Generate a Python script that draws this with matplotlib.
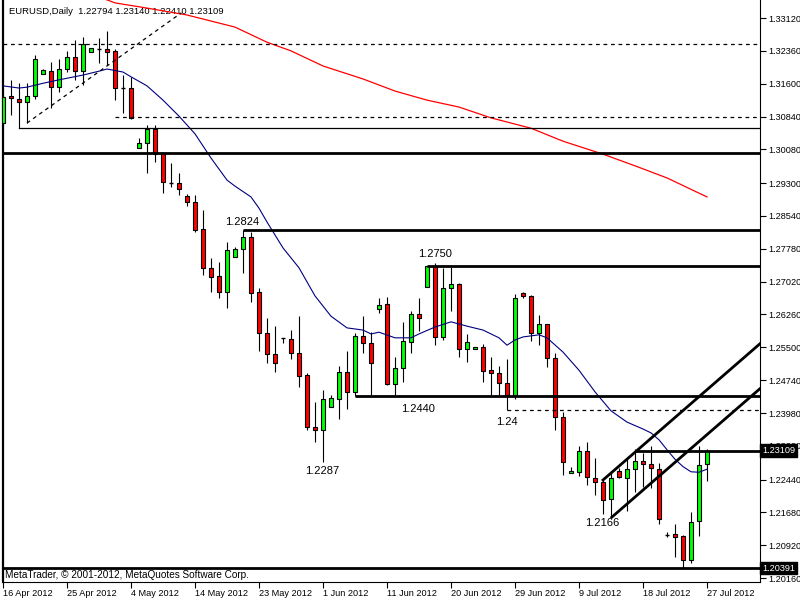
import numpy as np
import matplotlib
matplotlib.use("Agg")
import matplotlib.pyplot as plt
import matplotlib.transforms as mtransforms

plt.rcParams['font.family'] = ['Liberation Sans', 'DejaVu Sans']

# daily EURUSD bars, 16 Apr 2012 .. 27 Jul 2012 (incl. sunday bars)
opens = [1.3069, 1.3132, 1.3125, 1.3118, 1.3132, 1.3182, 1.3189, 1.3152, 1.3194, 1.3222,
         1.3189, 1.3233, 1.3240, 1.3240, 1.3236, 1.3150, 1.3150, 1.3011, 1.3023, 1.3055,
         1.3000, 1.2930, 1.2930, 1.2900, 1.2886, 1.2824, 1.2734, 1.2715, 1.2678, 1.2759,
         1.2777, 1.2805, 1.2678, 1.2583, 1.2535, 1.2572, 1.2569, 1.2537, 1.2486, 1.2366,
         1.2359, 1.2412, 1.2430, 1.2493, 1.2447, 1.2576, 1.2560, 1.2639, 1.2650, 1.2465,
         1.2502, 1.2562, 1.2627, 1.2690, 1.2738, 1.2574, 1.2687, 1.2697, 1.2546, 1.2546,
         1.2551, 1.2497, 1.2491, 1.2467, 1.2440, 1.2676, 1.2669, 1.2583, 1.2604, 1.2525,
         1.2389, 1.2259, 1.2261, 1.2310, 1.2248, 1.2238, 1.2199, 1.2264, 1.2248, 1.2268,
         1.2287, 1.2280, 1.2268, 1.2116, 1.2118, 1.2113, 1.2058, 1.2148, 1.22794]
highs = [1.3134, 1.3169, 1.3162, 1.3162, 1.3226, 1.3194, 1.3210, 1.3217, 1.3236, 1.3261,
         1.3268, 1.3243, 1.3266, 1.3282, 1.3240, 1.3180, 1.3176, 1.3034, 1.3064, 1.3064,
         1.3002, 1.2977, 1.2953, 1.2905, 1.2902, 1.2868, 1.2757, 1.2747, 1.2794, 1.2782,
         1.2821, 1.2817, 1.2687, 1.2618, 1.2599, 1.2572, 1.2590, 1.2622, 1.2491, 1.2423,
         1.2451, 1.2440, 1.2507, 1.2541, 1.2583, 1.2622, 1.2585, 1.2664, 1.2666, 1.2528,
         1.2609, 1.2634, 1.2664, 1.2738, 1.2745, 1.2734, 1.2736, 1.2699, 1.2581, 1.2551,
         1.2558, 1.2528, 1.2507, 1.2523, 1.2674, 1.2678, 1.2671, 1.2625, 1.2604, 1.2537,
         1.2400, 1.2273, 1.2322, 1.2331, 1.2294, 1.2243, 1.2259, 1.2271, 1.2292, 1.2315,
         1.2305, 1.2322, 1.2282, 1.2123, 1.2141, 1.2116, 1.2169, 1.2322, 1.23140]
lows = [1.3064, 1.3088, 1.3057, 1.3069, 1.3125, 1.3182, 1.3104, 1.3141, 1.3187, 1.3169,
        1.3157, 1.3233, 1.3208, 1.3203, 1.3122, 1.3092, 1.3078, 1.3011, 1.2953, 1.2979,
        1.2907, 1.2921, 1.2902, 1.2877, 1.2817, 1.2717, 1.2678, 1.2664, 1.2641, 1.2759,
        1.2722, 1.2655, 1.2541, 1.2514, 1.2493, 1.2560, 1.2523, 1.2458, 1.2359, 1.2331,
        1.2285, 1.2412, 1.2384, 1.2407, 1.2437, 1.2537, 1.2437, 1.2629, 1.2463, 1.2437,
        1.2470, 1.2537, 1.2588, 1.2690, 1.2555, 1.2567, 1.2634, 1.2528, 1.2516, 1.2546,
        1.2470, 1.2437, 1.2437, 1.2405, 1.2430, 1.2664, 1.2565, 1.2555, 1.2504, 1.2359,
        1.2254, 1.2259, 1.2252, 1.2231, 1.2208, 1.2164, 1.2157, 1.2248, 1.2171, 1.2215,
        1.2227, 1.2224, 1.2141, 1.2111, 1.2065, 1.2039, 1.2051, 1.2113, 1.22410]
closes = [1.3129, 1.3127, 1.3118, 1.3132, 1.3217, 1.3192, 1.3152, 1.3194, 1.3222, 1.3189,
          1.3252, 1.3243, 1.3240, 1.3233, 1.3150, 1.3150, 1.3081, 1.3023, 1.3055, 1.2997,
          1.2933, 1.2930, 1.2916, 1.2886, 1.2821, 1.2734, 1.2713, 1.2678, 1.2775, 1.2777,
          1.2805, 1.2676, 1.2583, 1.2535, 1.2514, 1.2572, 1.2537, 1.2484, 1.2366, 1.2359,
          1.2430, 1.2433, 1.2493, 1.2447, 1.2576, 1.2560, 1.2514, 1.2648, 1.2465, 1.2502,
          1.2565, 1.2627, 1.2618, 1.2738, 1.2574, 1.2687, 1.2697, 1.2546, 1.2562, 1.2551,
          1.2495, 1.2491, 1.2467, 1.2440, 1.2664, 1.2669, 1.2583, 1.2604, 1.2525, 1.2389,
          1.2285, 1.2264, 1.2310, 1.2250, 1.2238, 1.2197, 1.2248, 1.2250, 1.2268, 1.2287,
          1.2280, 1.2271, 1.2153, 1.2116, 1.2111, 1.2058, 1.2146, 1.2278, 1.23109]

# moving averages (bar index, price)
fast_ma_bar = [0, 2, 3, 5, 7, 10, 12, 13, 15, 16, 18, 20, 22, 24, 26, 28, 29, 31, 32, 33,
               35, 37, 39, 41, 43, 45, 46, 47, 49, 51, 52, 54, 56, 58, 60, 62, 63, 64, 65,
               67, 68, 70, 72, 74, 76, 78, 80, 81, 82, 83, 84, 85, 86, 87, 88]
fast_ma = [1.3155, 1.3150, 1.3152, 1.3161, 1.3169, 1.3180, 1.3189, 1.3194, 1.3187, 1.3176,
           1.3155, 1.3122, 1.3085, 1.3044, 1.2988, 1.2937, 1.2923, 1.2898, 1.2872, 1.2840,
           1.2780, 1.2734, 1.2669, 1.2622, 1.2595, 1.2590, 1.2581, 1.2585, 1.2572, 1.2572,
           1.2581, 1.2597, 1.2609, 1.2599, 1.2590, 1.2572, 1.2555, 1.2567, 1.2574, 1.2579,
           1.2572, 1.2539, 1.2497, 1.2447, 1.2403, 1.2377, 1.2361, 1.2352, 1.2336, 1.2313,
           1.2291, 1.2274, 1.2262, 1.2261, 1.2268]
slow_ma_bar = [12, 14, 18, 23, 29, 33, 36, 40, 45, 49, 53, 57, 61, 66, 70, 75, 79, 83, 88]
slow_ma = [1.3361, 1.3347, 1.3335, 1.3319, 1.3291, 1.3256, 1.3236, 1.3201, 1.3171, 1.3143,
           1.3122, 1.3106, 1.3081, 1.3057, 1.3027, 1.2997, 1.2970, 1.2942, 1.2898]

date_labels = ["16 Apr 2012", "25 Apr 2012", "4 May 2012", "14 May 2012", "23 May 2012",
               "1 Jun 2012", "11 Jun 2012", "20 Jun 2012", "29 Jun 2012", "9 Jul 2012",
               "18 Jul 2012", "27 Jul 2012"]
price_ticks = [1.33120, 1.32360, 1.31600, 1.30840, 1.30080, 1.29300, 1.28540, 1.27780,
               1.27020, 1.26260, 1.25500, 1.24740, 1.23980, 1.23220, 1.22440, 1.21680,
               1.20920, 1.20160]

# hand drawn objects: (from bar, level)
thick_levels = [(0, 1.3000), (30, 1.2821), (53, 1.2738), (44, 1.2437), (79, 1.2310), (0, 1.20391)]
thin_levels = [(2, 1.3057)]
dashed_levels = [(0, 1.3252), (14, 1.3083), (63, 1.2405)]
level_notes = [("1.2824", 29.9, 1.2839), ("1.2750", 54.0, 1.2765), ("1.2440", 51.9, 1.2407),
               ("1.24", 63.0, 1.2377), ("1.2287", 39.9, 1.2263), ("1.2166", 74.9, 1.2143)]
dashed_trend = ([3, 22.3], [1.3069, 1.3324])
channel_top = ([75, 94.6], [1.2243, 1.2558])
channel_bottom = ([76.1, 94.6], [1.2157, 1.2454])

fig = plt.figure(figsize=(8, 6), dpi=100)
ax = fig.add_axes([3 / 800, 18 / 600, 757 / 800, 582 / 600])
ax.set_xlim(0, 757 / 8)
ax.set_ylim(1.2007, 1.33537)

o = np.array(opens)
h = np.array(highs)
l = np.array(lows)
c = np.array(closes)
x = np.arange(len(o))
up = c > o
down = c < o
flat = c == o

ax.vlines(x, l, h, color="black", lw=0.8, zorder=2)
ax.bar(x[up], (c - o)[up], bottom=o[up], width=0.62, color="#00ff00",
       edgecolor="black", lw=0.8, zorder=3)
ax.bar(x[down], (o - c)[down], bottom=c[down], width=0.62, color="#ff0000",
       edgecolor="black", lw=0.8, zorder=3)
ax.hlines(o[flat], x[flat] - 0.31, x[flat] + 0.31, color="black", lw=1.0, zorder=3)

ax.plot(slow_ma_bar, slow_ma, color="#ff0000", lw=0.9, zorder=4)
ax.plot(fast_ma_bar, fast_ma, color="#000080", lw=0.8, zorder=4)

xmax = 757 / 8
for start, lev in thick_levels:
    ax.plot([start, xmax], [lev, lev], color="black", lw=2.0, zorder=5, solid_capstyle="butt")
for start, lev in thin_levels:
    ax.plot([start, xmax], [lev, lev], color="black", lw=0.9, zorder=5)
for start, lev in dashed_levels:
    ax.plot([start, xmax], [lev, lev], color="black", lw=0.9, ls=(0, (3, 3)), zorder=5)
ax.plot(*dashed_trend, color="black", lw=0.9, ls=(0, (3, 3)), zorder=5)
ax.plot(*channel_top, color="black", lw=2.0, zorder=5)
ax.plot(*channel_bottom, color="black", lw=2.0, zorder=5)

for txt, bx, by in level_notes:
    ax.text(bx, by, txt, fontsize=8, ha="center", va="center", color="black", zorder=6)

ax.text(6 / 757, 1 - 11 / 582, "EURUSD,Daily  1.22794 1.23140 1.22410 1.23109",
        transform=ax.transAxes, fontsize=6.8, ha="left", va="center")
ax.text(2 / 757, 7 / 582, "MetaTrader, © 2001-2012, MetaQuotes Software Corp.",
        transform=ax.transAxes, fontsize=7.2, ha="left", va="center")

# axes / ticks
ax.yaxis.tick_right()
ax.set_yticks(price_ticks)
ax.set_yticklabels([f"{p:.5f}" for p in price_ticks])
ax.set_xticks(np.arange(0, 89, 8))
ax.set_xticklabels(date_labels, ha="left")
ax.tick_params(axis="both", direction="out", length=4, width=0.8, labelsize=6.6,
               colors="black", pad=2)
ax.tick_params(axis="x", pad=1)
for sp in ["left", "right", "bottom"]:
    ax.spines[sp].set_color("black")
ax.spines["left"].set_linewidth(1.6)
ax.spines["right"].set_linewidth(0.8)
ax.spines["bottom"].set_linewidth(0.8)
ax.spines["top"].set_visible(False)

# price boxes on the axis (the current bid box hides most of the 1.23220 label, as in MT4)
trans = mtransforms.blended_transform_factory(ax.transAxes, ax.transData)
for val in [1.23109, 1.20391]:
    ax.text(1.003, val, f"{val:.5f}", transform=trans, fontsize=6.6, color="white",
            ha="left", va="center", zorder=10, clip_on=False,
            bbox=dict(boxstyle="square,pad=0.2", fc="black", ec="black"))

fig.savefig("out.png", dpi=100)
